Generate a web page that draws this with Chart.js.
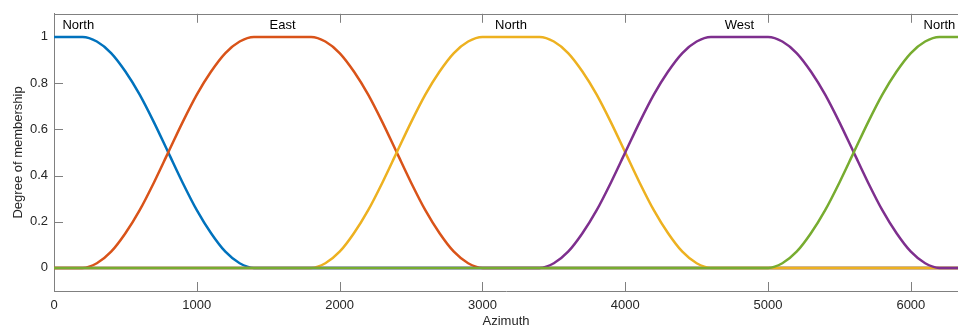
<!DOCTYPE html>
<html>
<head>
<meta charset="utf-8">
<script src="https://cdn.jsdelivr.net/npm/chart.js@4"></script>
<style>
  html, body { margin: 0; padding: 0; background: #fff; }
  #chart { display: block; }
</style>
</head>
<body>
<canvas id="chart" width="958" height="328"></canvas>
<script>
// azimuth samples (every 100)
const azimuth = [
  0, 100, 200, 300, 400, 500, 600, 700, 800, 900,
  1000, 1100, 1200, 1300, 1400, 1500, 1600, 1700, 1800, 1900,
  2000, 2100, 2200, 2300, 2400, 2500, 2600, 2700, 2800, 2900,
  3000, 3100, 3200, 3300, 3400, 3500, 3600, 3700, 3800, 3900,
  4000, 4100, 4200, 4300, 4400, 4500, 4600, 4700, 4800, 4900,
  5000, 5100, 5200, 5300, 5400, 5500, 5600, 5700, 5800, 5900,
  6000, 6100, 6200, 6300, 6400
];

const northA = [
  1, 1, 1, 0.98, 0.93, 0.85, 0.75, 0.63, 0.5, 0.37,
  0.25, 0.15, 0.07, 0.02, 0, 0, 0, 0, 0, 0,
  0, 0, 0, 0, 0, 0, 0, 0, 0, 0,
  0, 0, 0, 0, 0, 0, 0, 0, 0, 0,
  0, 0, 0, 0, 0, 0, 0, 0, 0, 0,
  0, 0, 0, 0, 0, 0, 0, 0, 0, 0,
  0, 0, 0, 0, 0
];
const east = [
  0, 0, 0, 0.02, 0.07, 0.15, 0.25, 0.37, 0.5, 0.63,
  0.75, 0.85, 0.93, 0.98, 1, 1, 1, 1, 1, 0.98,
  0.93, 0.85, 0.75, 0.63, 0.5, 0.37, 0.25, 0.15, 0.07, 0.02,
  0, 0, 0, 0, 0, 0, 0, 0, 0, 0,
  0, 0, 0, 0, 0, 0, 0, 0, 0, 0,
  0, 0, 0, 0, 0, 0, 0, 0, 0, 0,
  0, 0, 0, 0, 0
];
const northB = [
  0, 0, 0, 0, 0, 0, 0, 0, 0, 0,
  0, 0, 0, 0, 0, 0, 0, 0, 0, 0.02,
  0.07, 0.15, 0.25, 0.37, 0.5, 0.63, 0.75, 0.85, 0.93, 0.98,
  1, 1, 1, 1, 1, 0.98, 0.93, 0.85, 0.75, 0.63,
  0.5, 0.37, 0.25, 0.15, 0.07, 0.02, 0, 0, 0, 0,
  0, 0, 0, 0, 0, 0, 0, 0, 0, 0,
  0, 0, 0, 0, 0
];
const west = [
  0, 0, 0, 0, 0, 0, 0, 0, 0, 0,
  0, 0, 0, 0, 0, 0, 0, 0, 0, 0,
  0, 0, 0, 0, 0, 0, 0, 0, 0, 0,
  0, 0, 0, 0, 0, 0.02, 0.07, 0.15, 0.25, 0.37,
  0.5, 0.63, 0.75, 0.85, 0.93, 0.98, 1, 1, 1, 1,
  1, 0.98, 0.93, 0.85, 0.75, 0.63, 0.5, 0.37, 0.25, 0.15,
  0.07, 0.02, 0, 0, 0
];
const northC = [
  0, 0, 0, 0, 0, 0, 0, 0, 0, 0,
  0, 0, 0, 0, 0, 0, 0, 0, 0, 0,
  0, 0, 0, 0, 0, 0, 0, 0, 0, 0,
  0, 0, 0, 0, 0, 0, 0, 0, 0, 0,
  0, 0, 0, 0, 0, 0, 0, 0, 0, 0,
  0, 0.02, 0.07, 0.15, 0.25, 0.37, 0.5, 0.63, 0.75, 0.85,
  0.93, 0.98, 1, 1, 1
];

const xTicks = [0, 1000, 2000, 3000, 4000, 5000, 6000];
const yTicks = [0, 0.2, 0.4, 0.6, 0.8, 1];

// membership function names and where their label sits (azimuth)
const mfNames = ["North", "East", "North", "West", "North"];
const mfLabelAt = [170, 1600, 3200, 4800, 6200];

const colors = ["#0072BD", "#D95319", "#EDB120", "#7E2F8E", "#77AC30"];
const axisColor = "#808080";
const textColor = "#262626";
const FONT = "'Liberation Sans', Arial, Helvetica, sans-serif";

const series = [northA, east, northB, west, northC];

const mkData = (ys) => azimuth.map((a, i) => ({x: a, y: ys[i]}));

// inward ticks + top box line, like MATLAB axes
const boxTicks = {
  id: "boxTicks",
  beforeDatasetsDraw(chart) {
    const {ctx, chartArea: a, scales: {x, y}} = chart;
    const len = 9;
    ctx.save();
    ctx.strokeStyle = axisColor;
    ctx.lineWidth = 1;
    ctx.beginPath();
    ctx.moveTo(a.left, Math.round(a.top) + 0.5);
    ctx.lineTo(a.right, Math.round(a.top) + 0.5);
    x.ticks.forEach(t => {
      const px = Math.round(x.getPixelForValue(t.value)) + 0.5;
      ctx.moveTo(px, a.bottom); ctx.lineTo(px, a.bottom - len);
      ctx.moveTo(px, a.top); ctx.lineTo(px, a.top + len);
    });
    y.ticks.forEach(t => {
      const py = Math.round(y.getPixelForValue(t.value)) + 0.5;
      ctx.moveTo(a.left, py); ctx.lineTo(a.left + len, py);
    });
    ctx.stroke();
    ctx.restore();
  },
  afterDatasetsDraw(chart) {
    const {ctx, scales: {x, y}} = chart;
    ctx.save();
    ctx.font = `13px ${FONT}`;
    ctx.fillStyle = "#000";
    ctx.textAlign = "center";
    ctx.textBaseline = "middle";
    mfNames.forEach((name, i) => {
      ctx.fillText(name, x.getPixelForValue(mfLabelAt[i]), y.getPixelForValue(1.048));
    });
    ctx.restore();
  }
};

new Chart(document.getElementById("chart").getContext("2d"), {
  type: "line",
  data: {
    datasets: series.map((ys, i) => ({
      label: mfNames[i],
      data: mkData(ys),
      borderColor: colors[i],
      borderWidth: 2.5,
      pointRadius: 0,
      fill: false,
      cubicInterpolationMode: "monotone",
      order: series.length - i
    }))
  },
  options: {
    responsive: false,
    animation: false,
    layout: { padding: { top: 12, right: 0, bottom: 0, left: 0 } },
    plugins: { legend: { display: false }, tooltip: { enabled: false } },
    scales: {
      x: {
        type: "linear",
        min: 0,
        max: 6330,
        afterBuildTicks: (s) => { s.ticks = xTicks.map(v => ({value: v})); },
        afterFit: (s) => { s.height = 37; },
        grid: { display: false, drawTicks: false },
        border: { display: true, color: axisColor, width: 1 },
        ticks: { color: textColor, font: { family: FONT, size: 13 }, padding: 7, maxRotation: 0, autoSkip: false, callback: (v) => String(v) },
        title: { display: true, text: "Azimuth", color: textColor, font: { family: FONT, size: 13, lineHeight: 1 }, padding: { top: 0, bottom: 0 } }
      },
      y: {
        type: "linear",
        min: -0.1,
        max: 1.1,
        afterBuildTicks: (s) => { s.ticks = yTicks.map(v => ({value: v})); },
        afterFit: (s) => { s.width = 54; },
        grid: { display: false, drawTicks: false },
        border: { display: true, color: axisColor, width: 1 },
        ticks: { color: textColor, font: { family: FONT, size: 13 }, padding: 6, callback: (v) => String(+(+v).toFixed(1)) },
        title: { display: true, text: "Degree of membership", color: textColor, font: { family: FONT, size: 13, lineHeight: 1 }, padding: { top: 11.5, bottom: 0 } }
      }
    }
  },
  plugins: [boxTicks]
});
</script>
</body>
</html>
